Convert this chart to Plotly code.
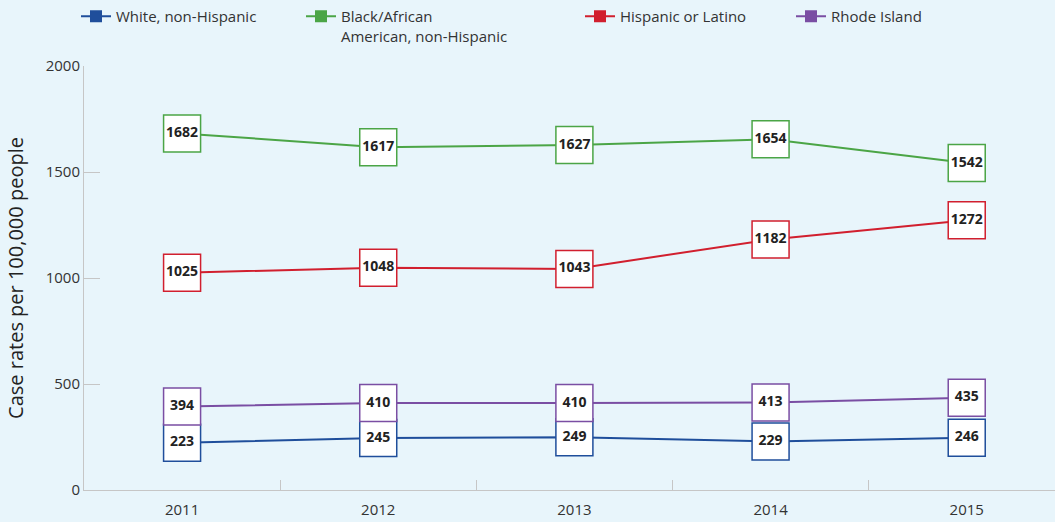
import plotly.graph_objects as go

years = ["2011", "2012", "2013", "2014", "2015"]
white = [223, 245, 249, 229, 246]
black = [1682, 1617, 1627, 1654, 1542]
hispanic = [1025, 1048, 1043, 1182, 1272]
rhode_island = [394, 410, 410, 413, 435]

series_names = ["White, non-Hispanic", "Black/African<br>American, non-Hispanic",
                "Hispanic or Latino", "Rhode Island"]
series_values = [white, black, hispanic, rhode_island]
series_colors = ["#1f4e9b", "#4ba546", "#d11f2e", "#7a4ea3"]

BG = "#e8f5fb"
FONT = "Open Sans, Noto Sans, sans-serif"

fig = go.Figure()

for name, vals, col in zip(series_names, series_values, series_colors):
    fig.add_trace(go.Scatter(
        x=years, y=vals, mode="lines+markers+text",
        text=[str(v) for v in vals], textposition="middle center",
        textfont=dict(family=FONT, size=14, color="#222222", weight="bold"),
        line=dict(color=col, width=2),
        marker=dict(symbol="square", size=37, color="white",
                    line=dict(color=col, width=1.5)),
        showlegend=False, cliponaxis=False, hoverinfo="skip"))

legend_ids = ["legend", "legend2", "legend3", "legend4"]
legend_x = [76, 301, 580, 791]
for i, (name, col) in enumerate(zip(series_names, series_colors)):
    fig.add_trace(go.Scatter(
        x=[None], y=[None], mode="lines+markers", name=name,
        line=dict(color=col, width=2),
        marker=dict(symbol="square", size=12, color=col),
        legend=legend_ids[i]))

L, R, T, B = 84, 0, 66, 32
W, H = 1055, 522
pw = W - L - R
ph = H - T - B

layout_legends = {}
for i, lid in enumerate(legend_ids):
    layout_legends[lid] = dict(
        x=(legend_x[i] - L) / pw, xanchor="left",
        y=(ph + T) / ph, yanchor="top",
        bgcolor="rgba(0,0,0,0)", borderwidth=0, valign="top",
        font=dict(family=FONT, size=15, color="#333333"),
        orientation="h")

fig.update_layout(
    width=W, height=H,
    margin=dict(l=L, r=R, t=T, b=B, autoexpand=False),
    paper_bgcolor=BG, plot_bgcolor=BG,
    font=dict(family=FONT, color="#333333"),
    **layout_legends,
    xaxis=dict(type="category", range=[-0.5, 4.45], automargin=False,
               showline=True, linecolor="#c6c6c6", linewidth=1,
               ticks="inside", ticklen=10, tickcolor="#c6c6c6",
               tickson="boundaries", showgrid=False, zeroline=False,
               ticklabelstandoff=6,
               tickfont=dict(family=FONT, size=15, color="#333333"),
               fixedrange=True),
    yaxis=dict(range=[0, 2000], tickvals=[0, 500, 1000, 1500, 2000],
               automargin=False,
               showline=True, linecolor="#c6c6c6", linewidth=1,
               ticks="inside", ticklen=16, tickcolor="#c6c6c6",
               showgrid=False, zeroline=False,
               tickfont=dict(family=FONT, size=15, color="#333333"),
               title=dict(text="Case rates per 100,000 people",
                          font=dict(family=FONT, size=20, color="#222222"),
                          standoff=16),
               fixedrange=True),
)

fig.write_html(
    "out.html",
    config={"displayModeBar": False},
    post_script=("document.body.style.margin='0';"
                 "document.body.style.padding='0';"
                 "document.body.style.background='" + BG + "';"
                 "window.dispatchEvent(new Event('resize'));"),
)
